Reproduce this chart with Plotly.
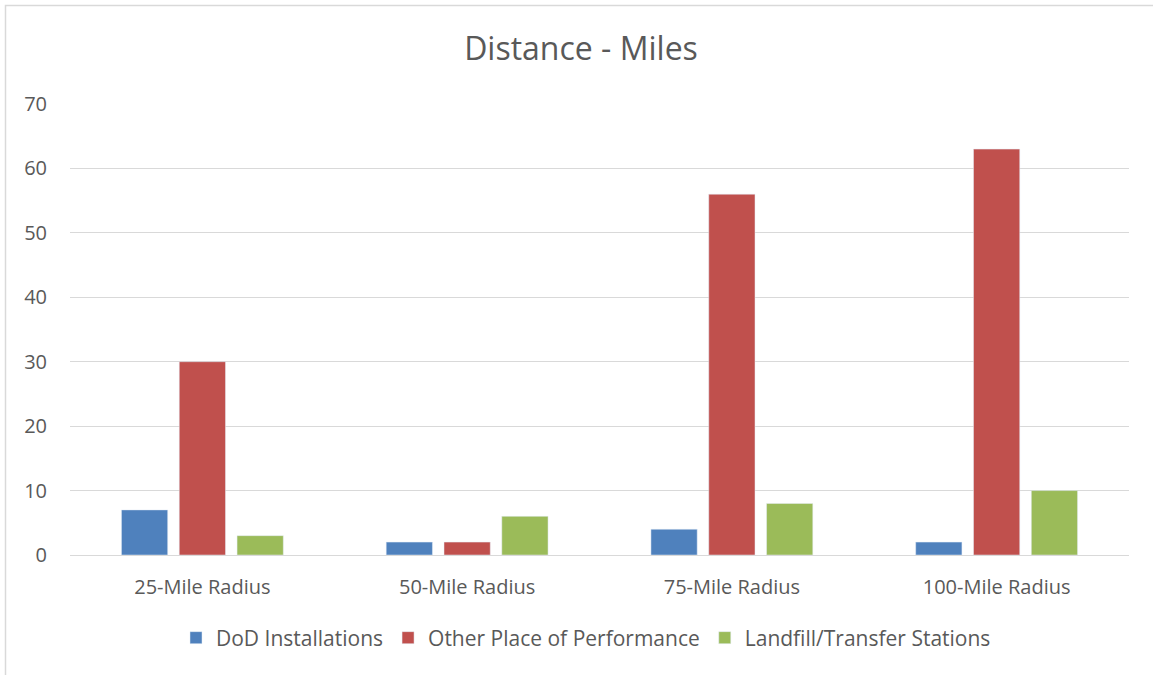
import plotly.graph_objects as go

categories = ["25-Mile Radius", "50-Mile Radius", "75-Mile Radius", "100-Mile Radius"]
dod_installations = [7, 2, 4, 2]
other_place = [30, 2, 56, 63]
landfill_transfer = [3, 6, 8, 10]
y_ticks = [0, 10, 20, 30, 40, 50, 60, 70]

FONT = "Open Sans"
TXT = "#595959"

fig = go.Figure()
fig.add_trace(go.Bar(name="DoD Installations", x=categories, y=dod_installations, marker_color="#4F81BD"))
fig.add_trace(go.Bar(name="Other Place of Performance", x=categories, y=other_place, marker_color="#C0504D"))
fig.add_trace(go.Bar(name="Landfill/Transfer Stations", x=categories, y=landfill_transfer, marker_color="#9BBB59"))

W, H = 1153, 675
L, R, T, B = 70, W - 1129, 104, H - 555
pw, ph = W - L - R, H - T - B

def px(x):
    return (x - L) / pw

def py(y):
    return (H - B - y) / ph

fig.update_layout(
    width=W, height=H,
    margin=dict(l=L, r=R, t=T, b=B),
    paper_bgcolor="white", plot_bgcolor="white",
    barmode="group", bargap=0.345, bargroupgap=0.2,
    font=dict(family=FONT, color=TXT, size=20),
    title=dict(text="Distance - Miles", x=px(581), xref="paper", xanchor="center",
               y=1 - 49 / H, yanchor="middle", font=dict(size=32, color=TXT, family=FONT)),
    showlegend=True,
    legend=dict(orientation="h", x=px(586), xanchor="center", y=py(638), yanchor="middle",
                font=dict(size=21, color=TXT), itemwidth=30, traceorder="normal"),
    shapes=[dict(type="rect", xref="paper", yref="paper",
                 x0=px(5.5), x1=px(1160), y0=py(5.5), y1=py(700),
                 line=dict(color="#D9D9D9", width=1.5), layer="below")],
)
fig.update_yaxes(range=[0, 70], tickvals=y_ticks, showgrid=True, gridcolor="#D9D9D9", gridwidth=1,
                 zeroline=False, showline=False, ticks="", ticklabelstandoff=22,
                 tickfont=dict(size=20, color=TXT))
fig.update_xaxes(showline=True, linecolor="#D9D9D9", linewidth=1, ticks="", ticklabelstandoff=14,
                 tickfont=dict(size=20, color=TXT))

fig.write_html("out.html", config={"displayModeBar": False},
               post_script="document.body.style.margin='0';document.body.style.overflow='hidden';")
